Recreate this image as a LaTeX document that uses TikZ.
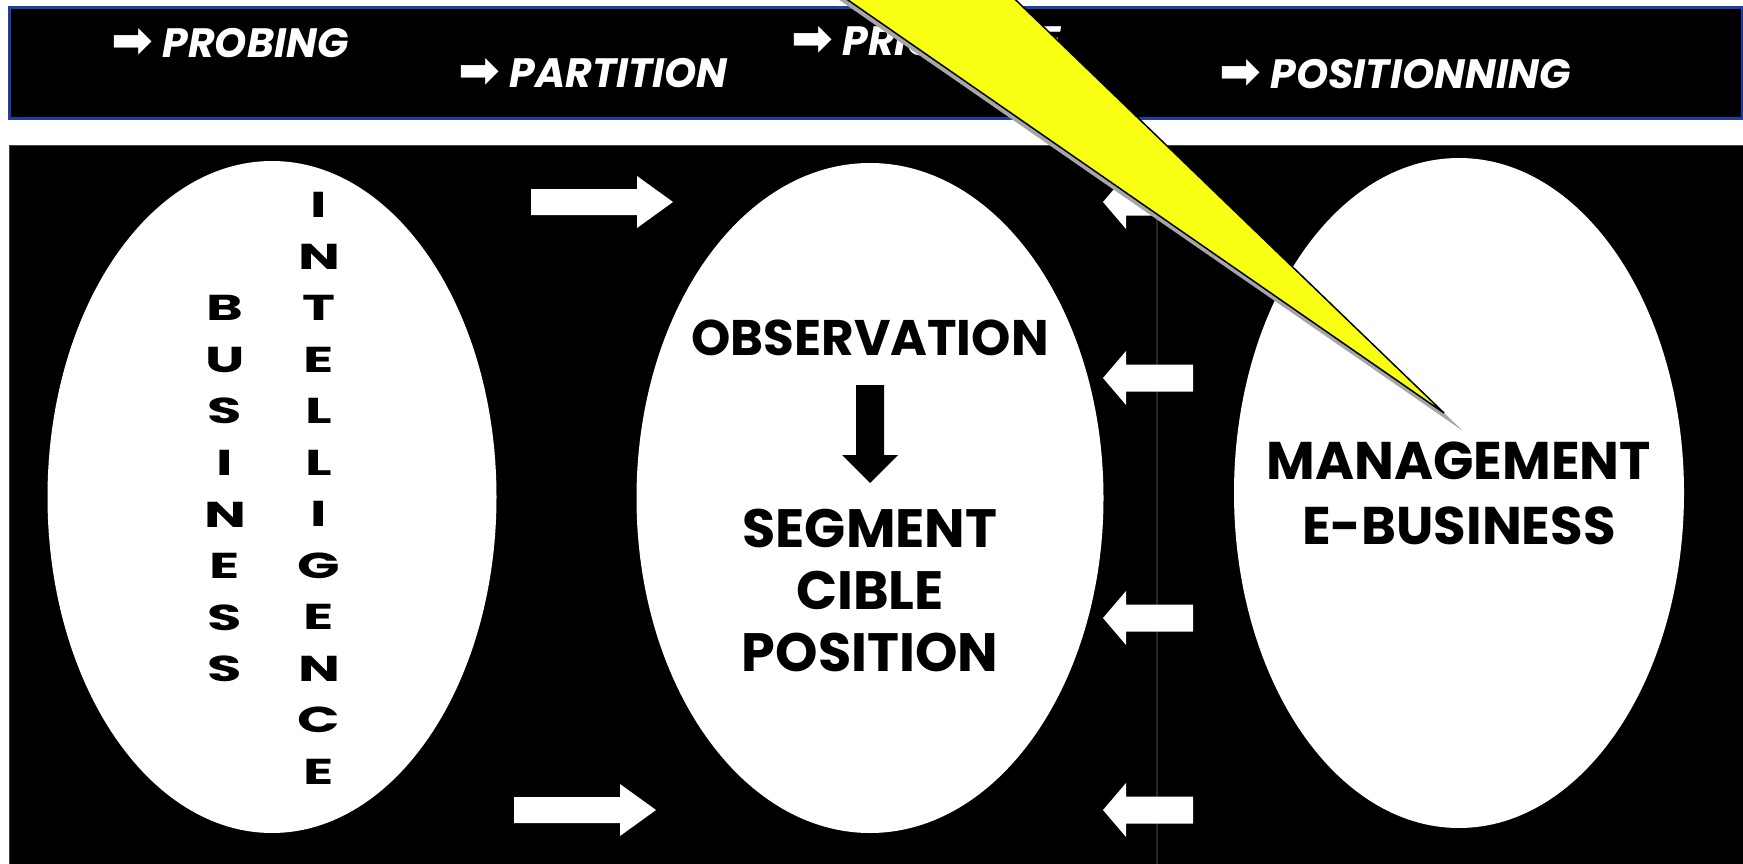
\documentclass[tikz,border=0pt]{standalone}
\usepackage{fontspec}
\setmainfont{Poppins}
\newfontfamily\symbfont{DejaVu Sans}
\usetikzlibrary{shapes.geometric,positioning}
\definecolor{barblue}{RGB}{31,63,156}
\definecolor{callout}{RGB}{248,255,18}
\newcommand{\fleche}{\smash{\symbfont\upshape\fontsize{50}{50}\selectfont ➡}}

\begin{document}
\begin{tikzpicture}[x=1pt, y=-1pt, node distance=62pt, auto,
		oval/.style={ellipse, fill=white, inner sep=0pt},
		ptext/.style={anchor=west, inner sep=0pt, text=white, font=\fontsize{41}{44}\selectfont\bfseries\itshape},
		bigtext/.style={align=center, inner sep=0pt, font=\fontsize{54}{62}\selectfont\bfseries},
		letter/.style={inner sep=0pt, xscale=1.55, font=\fontsize{36}{40}\selectfont\bfseries}]
		\useasboundingbox (0,0) rectangle (1743,864);
		\clip (0,0) rectangle (1743,864);
		\fill[white] (0,0) rectangle (1743,864);
		
		\node (bandeau) [draw=barblue, line width=3pt, fill=black, minimum width=1733, minimum height=111, anchor=north west, inner sep=0pt] at (8,6) {};
		\node (panneau) [draw=gray!50!black, line width=1pt, fill=black, minimum width=1740, minimum height=725, anchor=north west, inner sep=0pt] at (9,145) {};
		\draw[gray!30!black, line width=2pt] (1157,145) -- (1157,864);
		
		\node (probing) [ptext] at (111,43) {\fleche\ PROBING};
		\node (partition) [ptext] at (458,73) {\fleche\ PARTITION};
		\node (priorite) [ptext] at (791,41) {\fleche\ PRIORITIZE};
		\node (positionning) [ptext] at (1219,74) {\fleche\ POSITIONNING};
		
		\node (bi) [oval, minimum width=449, minimum height=672] at (272,497) {};
		\node (observe) [oval, minimum width=467, minimum height=670] at (870,498) {};
		\node (manage) [oval, minimum width=450, minimum height=670] at (1459,493) {};
		
		\foreach \c [count=\i from 0] in {B,U,S,I,N,E,S,S}
			\node (bus\i) [letter] at (225,{308+51.6*\i}) {\c};
		\foreach \c [count=\i from 0] in {I,N,T,E,L,L,I,G,E,N,C,E}
			\node (int\i) [letter] at (319,{205+51.5*\i}) {\c};
		
		\node (observation) [bigtext, font=\fontsize{50}{56}\selectfont\bfseries] at (870,338) {OBSERVATION};
		\fill[black] (856,385) -- (884,385) -- (884,455) -- (898,455) -- (870,483) -- (842,455) -- (856,455) -- cycle;
		\node (cible) [bigtext] at (870,590) {SEGMENT\\CIBLE\\POSITION};
		\node (ebusiness) [bigtext, font=\fontsize{53}{65}\selectfont\bfseries] at (1459,493) {MANAGEMENT\\E-BUSINESS};
		
		\foreach \x/\y in {531/202, 514/810}
			\fill[white] (\x,\y-13) -- (\x+106,\y-13) -- (\x+106,\y-26) -- (\x+142,\y) -- (\x+106,\y+26) -- (\x+106,\y+13) -- (\x,\y+13) -- cycle;
		\foreach \y in {202,378,618,810}
			\fill[white] (1193,\y-13.5) -- (1126,\y-13.5) -- (1126,\y-27) -- (1103,\y) -- (1126,\y+27) -- (1126,\y+13.5) -- (1193,\y+13.5) -- cycle;
		
		\fill[gray!70] (819,-14) -- (995,-14) -- (1463,431) -- cycle;
		\filldraw[fill=callout, draw=black, line width=1.5pt] (819,-20) -- (995,-20) -- (1444,413) -- cycle;
	\end{tikzpicture}
\end{document}
